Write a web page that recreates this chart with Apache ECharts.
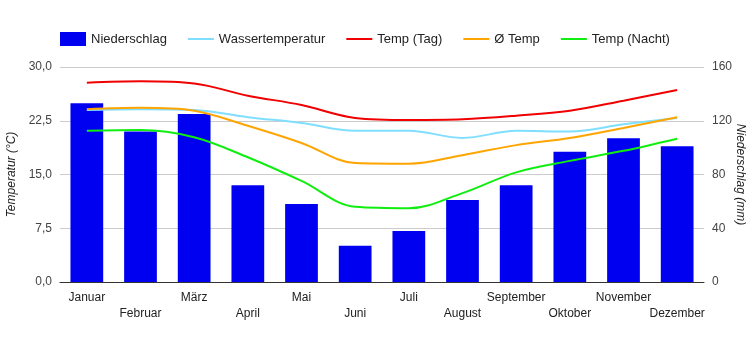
<!DOCTYPE html>
<html>
<head>
<meta charset="utf-8">
<script src="https://cdn.jsdelivr.net/npm/echarts@6/dist/echarts.min.js"></script>
<style>
  html, body { margin: 0; padding: 0; background: #fff; }
  #chart { width: 750px; height: 350px; }
</style>
</head>
<body>
<div id="chart"></div>
<script>
const months = ['Januar', 'Februar', 'März', 'April', 'Mai', 'Juni', 'Juli', 'August', 'September', 'Oktober', 'November', 'Dezember']

// mm
const niederschlag = [133, 112, 125, 72, 58, 27, 38, 61, 72, 97, 107, 101]
// °C
const wassertemp = [24.0, 24.1, 24.0, 23.0, 22.2, 21.1, 21.1, 20.1, 21.1, 21.0, 22.0, 22.9]
const tempTag = [27.8, 28.0, 27.7, 26.0, 24.7, 22.9, 22.6, 22.7, 23.2, 23.9, 25.3, 26.8]
const tempMittel = [24.1, 24.3, 23.9, 21.8, 19.4, 16.6, 16.5, 17.7, 19.1, 20.1, 21.5, 23.0]
const tempNacht = [21.1, 21.2, 20.2, 17.4, 14.1, 10.5, 10.3, 12.4, 15.3, 16.9, 18.3, 20.0]

const font = 'Arial, "Liberation Sans", sans-serif'

const chart = echarts.init(document.getElementById('chart'))

function lineSeries(name, data, color) {
  return {
    name: name,
    type: 'line',
    yAxisIndex: 0,
    data: data,
    smooth: 0.35,
    symbol: 'none',
    lineStyle: { color: color, width: 2 },
    itemStyle: { color: color },
  }
}

// legend entries for lines: hide the circle, keep the line
function lineLegend(name) {
  return { name: name, itemStyle: { opacity: 0 } }
}

const option = {
  animation: false,
  backgroundColor: '#fff',
  textStyle: { fontFamily: font },
  legend: {
    left: 55,
    top: 27,
    itemWidth: 26,
    itemHeight: 14,
    itemGap: 20,
    lineStyle: { width: 2 },
    textStyle: { fontSize: 13, color: '#222', fontFamily: font },
    data: [
      { name: 'Niederschlag', icon: 'rect' },
      lineLegend('Wassertemperatur'),
      lineLegend('Temp (Tag)'),
      lineLegend('Ø Temp'),
      lineLegend('Temp (Nacht)'),
    ],
  },
  grid: { left: 60, right: 46, top: 67, bottom: 68, outerBoundsMode: 'none' },
  xAxis: {
    type: 'category',
    data: months,
    axisTick: { show: false },
    axisLine: { lineStyle: { color: '#333' } },
    axisLabel: {
      color: '#222',
      fontSize: 12,
      lineHeight: 16,
      interval: 0,
      margin: 8,
      formatter: (v, i) => (i % 2 ? '\n' + v : v),
    },
  },
  yAxis: [
    {
      type: 'value',
      min: 0,
      max: 30,
      interval: 7.5,
      name: 'Temperatur (°C)',
      nameLocation: 'middle',
      nameRotate: 90,
      nameGap: 42,
      nameMoveOverlap: false,
      nameTextStyle: { fontStyle: 'italic', fontSize: 12, color: '#222' },
      axisLabel: {
        color: '#444',
        fontSize: 12,
        formatter: (v) => v.toFixed(1).replace('.', ','),
      },
      splitLine: { lineStyle: { color: '#ccc' } },
    },
    {
      type: 'value',
      min: 0,
      max: 160,
      interval: 40,
      name: 'Niederschlag (mm)',
      nameLocation: 'middle',
      nameRotate: -90,
      nameGap: 30,
      nameMoveOverlap: false,
      nameTextStyle: { fontStyle: 'italic', fontSize: 12, color: '#222' },
      axisLabel: { color: '#444', fontSize: 12 },
      splitLine: { show: false },
    },
  ],
  series: [
    {
      name: 'Niederschlag',
      type: 'bar',
      yAxisIndex: 1,
      data: niederschlag,
      barWidth: '61%',
      itemStyle: { color: '#0000f0' },
    },
    lineSeries('Wassertemperatur', wassertemp, '#80deff'),
    lineSeries('Temp (Tag)', tempTag, '#f00000'),
    lineSeries('Ø Temp', tempMittel, '#ffa500'),
    lineSeries('Temp (Nacht)', tempNacht, '#10ee10'),
  ],
}

option && chart.setOption(option)
</script>
</body>
</html>
